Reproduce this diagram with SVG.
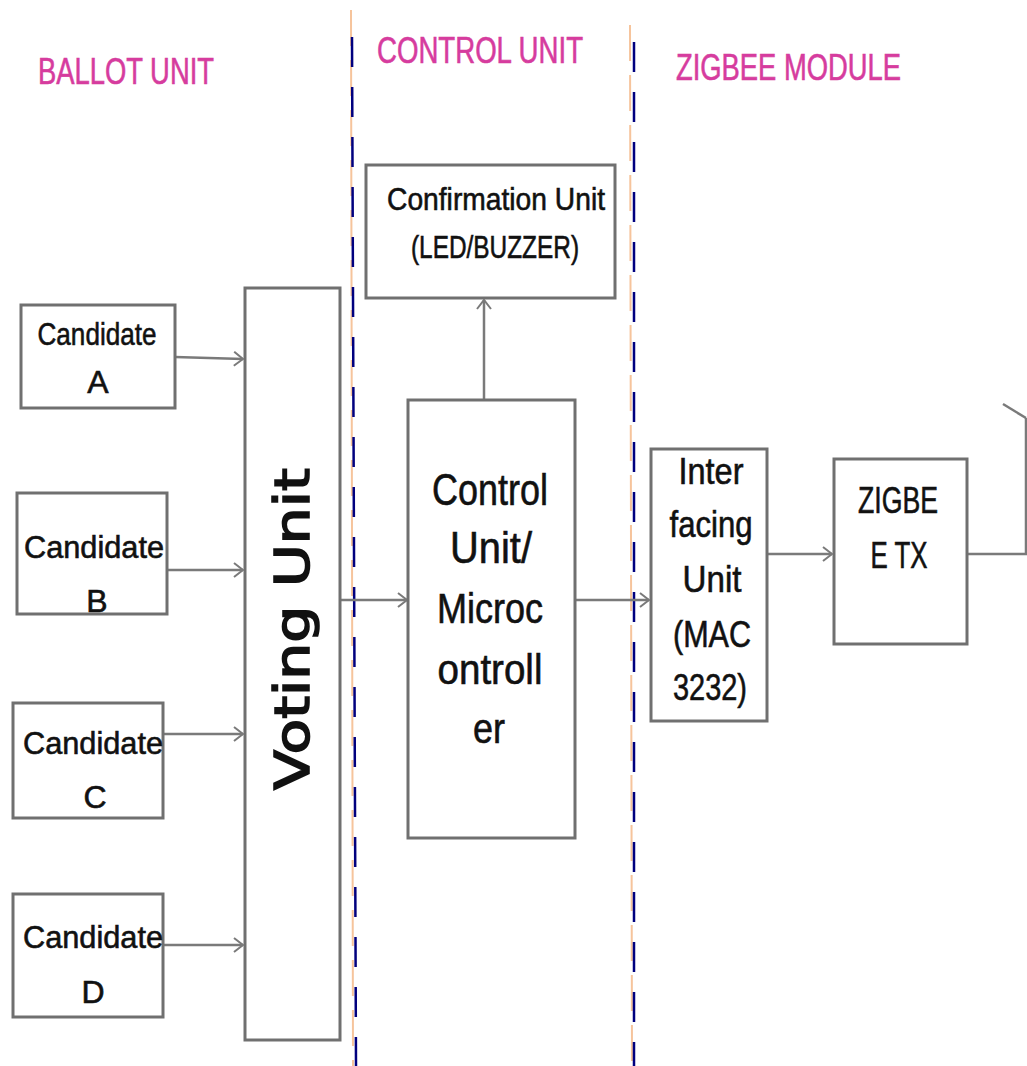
<svg xmlns="http://www.w3.org/2000/svg" width="1027" height="1066" viewBox="0 0 1027 1066">
  <defs>
    <style>
      .box { fill: #ffffff; stroke: #707070; stroke-width: 3; }
      .lbl { font-family: "Liberation Sans", Arial, sans-serif; fill: #111111; stroke: #111111; stroke-width: 0.6; text-anchor: middle; }
      .head { font-family: "Liberation Sans", Arial, sans-serif; fill: #d63c9e; stroke: #d63c9e; stroke-width: 0.6; font-size: 37px; }
      .wire { fill: none; stroke: #7a7a7a; stroke-width: 2.5; }
      .navy { fill: none; stroke: #00007f; stroke-width: 2.5; stroke-dasharray: 30 20; }
      .peach { fill: none; stroke: #f6c49c; stroke-width: 2; stroke-dasharray: 36 14; }
    </style>
    <marker id="arr" markerUnits="userSpaceOnUse" markerWidth="14" markerHeight="16" refX="10" refY="8" orient="auto">
      <path d="M1,1 L10,8 L1,15" fill="none" stroke="#7a7a7a" stroke-width="2"/>
    </marker>
  </defs>

  <rect width="1027" height="1066" fill="#ffffff"/>

  <!-- section dividers -->
  <g id="dividers">
    <line class="peach" x1="351" y1="10" x2="353" y2="1066"/>
    <line class="navy" x1="352" y1="37" x2="356" y2="1066"/>
    <line class="peach" x1="630" y1="25" x2="632" y2="1066"/>
    <line class="navy" x1="634" y1="42" x2="634" y2="1066"/>
  </g>

  <!-- section headings -->
  <g id="headings">
    <text class="head" x="38" y="84" textLength="176" lengthAdjust="spacingAndGlyphs">BALLOT UNIT</text>
    <text class="head" x="377" y="63" textLength="206" lengthAdjust="spacingAndGlyphs">CONTROL UNIT</text>
    <text class="head" x="676" y="80" textLength="225" lengthAdjust="spacingAndGlyphs">ZIGBEE MODULE</text>
  </g>

  <!-- connectors -->
  <g id="connectors">
    <line class="wire" x1="175" y1="357" x2="243" y2="359" marker-end="url(#arr)"/>
    <line class="wire" x1="167" y1="570" x2="243" y2="570" marker-end="url(#arr)"/>
    <line class="wire" x1="163" y1="734" x2="243" y2="734" marker-end="url(#arr)"/>
    <line class="wire" x1="163" y1="945" x2="243" y2="945" marker-end="url(#arr)"/>
    <line class="wire" x1="340" y1="600" x2="407" y2="600" marker-end="url(#arr)"/>
    <line class="wire" x1="576" y1="600" x2="649" y2="600" marker-end="url(#arr)"/>
    <line class="wire" x1="484" y1="400" x2="484" y2="300" stroke="#a8a8a8" marker-end="url(#arr)"/>
    <line class="wire" x1="767" y1="554" x2="832" y2="554" marker-end="url(#arr)"/>
    <polyline class="wire" points="967,554 1026,554 1026,418"/>
    <line class="wire" x1="1003" y1="404" x2="1026" y2="418"/>
  </g>

  <!-- ballot unit -->
  <g id="candidate-a">
    <rect class="box" x="21" y="305" width="154" height="103"/>
    <text class="lbl" font-size="32" x="97" y="345" textLength="119" lengthAdjust="spacingAndGlyphs">Candidate</text>
    <text class="lbl" font-size="32" x="98" y="393">A</text>
  </g>
  <g id="candidate-b">
    <rect class="box" x="17" y="493" width="150" height="121"/>
    <text class="lbl" font-size="32" x="94" y="558" textLength="140" lengthAdjust="spacingAndGlyphs">Candidate</text>
    <text class="lbl" font-size="32" x="97" y="612">B</text>
  </g>
  <g id="candidate-c">
    <rect class="box" x="13" y="703" width="150" height="115"/>
    <text class="lbl" font-size="32" x="93" y="754" textLength="140" lengthAdjust="spacingAndGlyphs">Candidate</text>
    <text class="lbl" font-size="32" x="95" y="808">C</text>
  </g>
  <g id="candidate-d">
    <rect class="box" x="13" y="894" width="150" height="123"/>
    <text class="lbl" font-size="32" x="93" y="948" textLength="140" lengthAdjust="spacingAndGlyphs">Candidate</text>
    <text class="lbl" font-size="32" x="93" y="1003">D</text>
  </g>
  <g id="voting-unit">
    <rect class="box" x="245" y="288" width="95" height="752"/>
    <text class="lbl" font-size="48" transform="translate(309,629) rotate(-90)" textLength="322" lengthAdjust="spacingAndGlyphs" style="font-family:'DejaVu Sans',sans-serif; stroke-width:1.6">Voting Unit</text>
  </g>

  <!-- control unit -->
  <g id="confirmation-unit">
    <rect class="box" x="366" y="165" width="249" height="133"/>
    <text class="lbl" font-size="32" x="496" y="210" textLength="218" lengthAdjust="spacingAndGlyphs">Confirmation Unit</text>
    <text class="lbl" font-size="32" x="495" y="258" textLength="168" lengthAdjust="spacingAndGlyphs">(LED/BUZZER)</text>
  </g>
  <g id="microcontroller">
    <rect class="box" x="408" y="400" width="167" height="438"/>
    <text class="lbl" font-size="44" x="490" y="505" textLength="116" lengthAdjust="spacingAndGlyphs">Control</text>
    <text class="lbl" font-size="44" x="491" y="563" textLength="82" lengthAdjust="spacingAndGlyphs">Unit/</text>
    <text class="lbl" font-size="42" x="490" y="623" textLength="106" lengthAdjust="spacingAndGlyphs">Microc</text>
    <text class="lbl" font-size="42" x="490" y="684" textLength="105" lengthAdjust="spacingAndGlyphs">ontroll</text>
    <text class="lbl" font-size="42" x="489" y="743" textLength="32" lengthAdjust="spacingAndGlyphs">er</text>
  </g>

  <!-- zigbee module -->
  <g id="interfacing-unit">
    <rect class="box" x="651" y="449" width="116" height="272"/>
    <text class="lbl" font-size="37" x="711" y="484" textLength="65" lengthAdjust="spacingAndGlyphs">Inter</text>
    <text class="lbl" font-size="37" x="711" y="537" textLength="83" lengthAdjust="spacingAndGlyphs">facing</text>
    <text class="lbl" font-size="37" x="712" y="592" textLength="59" lengthAdjust="spacingAndGlyphs">Unit</text>
    <text class="lbl" font-size="37" x="712" y="647" textLength="78" lengthAdjust="spacingAndGlyphs">(MAC</text>
    <text class="lbl" font-size="37" x="710" y="700" textLength="74" lengthAdjust="spacingAndGlyphs">3232)</text>
  </g>
  <g id="zigbee-tx">
    <rect class="box" x="834" y="459" width="133" height="185"/>
    <text class="lbl" font-size="36" x="898" y="513" textLength="80" lengthAdjust="spacingAndGlyphs">ZIGBE</text>
    <text class="lbl" font-size="36" x="899" y="568" textLength="57" lengthAdjust="spacingAndGlyphs">E TX</text>
  </g>
</svg>
